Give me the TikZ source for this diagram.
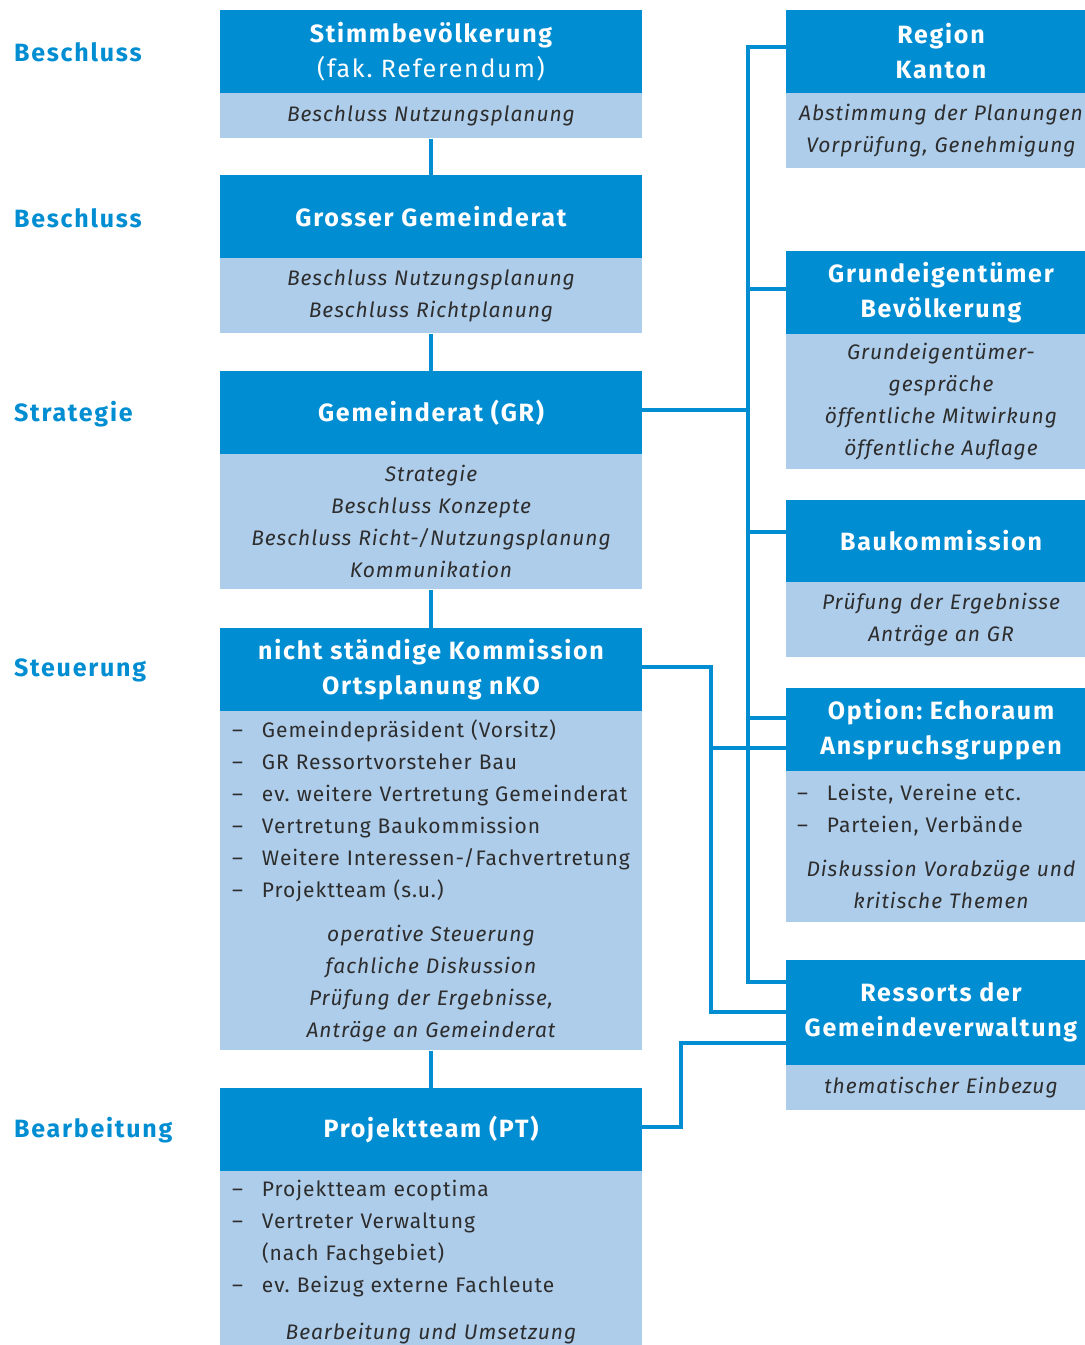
\documentclass[tikz,border=0pt]{standalone}
\usepackage{fontspec}
\setmainfont{Fira Sans}[LetterSpace=4.5]
\newfontfamily\kopfschrift{Fira Sans}[LetterSpace=7]
\usetikzlibrary{positioning}

\definecolor{dunkelblau}{RGB}{0,141,210}
\definecolor{hellblau}{RGB}{174,205,235}
\definecolor{schrift}{RGB}{45,45,45}

\newcommand\listenpunkt[1]{\mbox{\makebox[30pt][l]{--}#1}}
\frenchspacing

\tikzset{
  kopf/.style={fill=dunkelblau, text=white, minimum width=422pt, minimum height=83pt,
    inner sep=0pt, align=center, font=\kopfschrift\fontsize{25}{35}\selectfont\bfseries},
  kopfrechts/.style={kopf, minimum width=310pt},
  inhalt/.style={fill=hellblau, text=schrift, inner xsep=12pt, inner ysep=0pt,
    text width=398pt, font=\fontsize{21}{32}\selectfont\frenchspacing},
  inhaltrechts/.style={inhalt, inner xsep=11pt, text width=288pt},
  stufe/.style={anchor=west, inner sep=0pt, text=dunkelblau,
    font=\kopfschrift\fontsize{25}{30}\selectfont\bfseries},
  linie/.style={draw=dunkelblau, line width=4pt}
}

\begin{document}
\begin{tikzpicture}[x=1pt,y=-1pt]
\useasboundingbox (0,0) rectangle (1085,1345);
\clip (0,0) rectangle (1085,1345);

% Stufen
\node[stufe] (s1) at (14,52) {Beschluss};
\node[stufe] (s2) at (14,218) {Beschluss};
\node[stufe] (s3) at (14,414) {Strategie};
\node[stufe] (s4) at (14,670) {Steuerung};
\node[stufe] (s5) at (14,1130) {Bearbeitung};

% linke Spalte
\node[kopf] (k1) at (431,51.5) {Stimmbevölkerung\\{\mdseries (fak. Referendum)}};
\node[inhalt, minimum height=45pt, below=0pt of k1] (b1) {\centering\itshape
  Beschluss Nutzungsplanung\par};

\node[kopf] (k2) at (431,216.5) {Grosser Gemeinderat};
\node[inhalt, minimum height=75pt, below=0pt of k2] (b2) {\centering\itshape
  Beschluss Nutzungsplanung\\Beschluss Richtplanung\par};

\node[kopf] (k3) at (431,412.5) {Gemeinderat (GR)};
\node[inhalt, minimum height=135pt, below=0pt of k3] (b3) {\centering\itshape
  Strategie\\Beschluss Konzepte\\Beschluss Richt-/Nutzungsplanung\\Kommunikation\par};

\node[kopf] (k4) at (431,669.5) {nicht ständige Kommission\\Ortsplanung nKO};
\node[inhalt, minimum height=339pt, below=0pt of k4] (b4) {\raggedright
  \listenpunkt{Gemeindepräsident (Vorsitz)}\\
  \listenpunkt{GR Ressortvorsteher Bau}\\
  \listenpunkt{ev. weitere Vertretung Gemeinderat}\\
  \listenpunkt{Vertretung Baukommission}\\
  \listenpunkt{Weitere Interessen-/Fachvertretung}\\
  \listenpunkt{Projektteam (s.u.)}\par
  \vspace{12pt}
  {\centering\itshape operative Steuerung\\fachliche Diskussion\\
   Prüfung der Ergebnisse,\\Anträge an Gemeinderat\par}};

\node[kopf] (k5) at (431,1129.5) {Projektteam (PT)};
\node[inhalt, minimum height=181pt, below=0pt of k5] (b5) {\raggedright
  \listenpunkt{Projektteam ecoptima}\\
  \listenpunkt{Vertreter Verwaltung}\\
  \hspace*{30pt}(nach Fachgebiet)\\
  \listenpunkt{ev. Beizug externe Fachleute}\par
  \vspace{15pt}
  {\centering\itshape Bearbeitung und Umsetzung\par}};

% rechte Spalte
\node[kopfrechts] (r1) at (941,51.5) {Region\\Kanton};
\node[inhaltrechts, minimum height=75pt, below=0pt of r1] (q1) {\centering\itshape
  Abstimmung der Planungen\\Vorprüfung, Genehmigung\par};

\node[kopfrechts] (r2) at (941,292.5) {Grundeigentümer\\Bevölkerung};
\node[inhaltrechts, minimum height=135pt, below=0pt of r2] (q2) {\centering\itshape
  Grundeigentümer-\\gespräche\\öffentliche Mitwirkung\\öffentliche Auflage\par};

\node[kopfrechts, minimum height=82pt] (r3) at (941,541) {Baukommission};
\node[inhaltrechts, minimum height=75pt, below=0pt of r3] (q3) {\centering\itshape
  Prüfung der Ergebnisse\\Anträge an GR\par};

\node[kopfrechts] (r4) at (941,729.5) {Option: Echoraum\\Anspruchsgruppen};
\node[inhaltrechts, minimum height=151pt, below=0pt of r4] (q4) {\raggedright
  \listenpunkt{Leiste, Vereine etc.}\\
  \listenpunkt{Parteien, Verbände}\par
  \vspace{12pt}
  {\centering\itshape Diskussion Vorabzüge und\\kritische Themen\par}};

\node[kopfrechts, minimum height=105pt] (r5) at (941,1012.5) {Ressorts der\\Gemeindeverwaltung};
\node[inhaltrechts, minimum height=45pt, below=0pt of r5] (q5) {\centering\itshape
  thematischer Einbezug\par};

% Verbindungen links
\draw[linie] (b1) -- (k2);
\draw[linie] (b2) -- (k3);
\draw[linie] (b3) -- (k4);
\draw[linie] (b4) -- (k5);

% Stamm rechts
\coordinate (t1) at (748,47);
\coordinate (t2) at (748,289);
\coordinate (tg) at (748,410);
\coordinate (t3) at (748,532);
\coordinate (t4) at (748,718);
\coordinate (t5) at (748,982);
\draw[linie] (t1 -| r1.west) -- (t1) -- (t5) -- (t5 -| r5.west);
\draw[linie] (t2) -- (t2 -| r2.west);
\draw[linie] (tg -| k3.east) -- (tg);
\draw[linie] (t3) -- (t3 -| r3.west);
\draw[linie] (t4) -- (t4 -| r4.west);

% nKO
\coordinate (n1) at (711,667);
\coordinate (n2) at (711,748);
\coordinate (n3) at (711,1012);
\draw[linie] (n1 -| k4.east) -- (n1) -- (n3) -- (n3 -| r5.west);
\draw[linie] (n2) -- (n2 -| r4.west);

% PT
\coordinate (p1) at (681,1127);
\coordinate (p2) at (681,1043);
\draw[linie] (p1 -| k5.east) -- (p1) -- (p2) -- (p2 -| r5.west);
\end{tikzpicture}
\end{document}
